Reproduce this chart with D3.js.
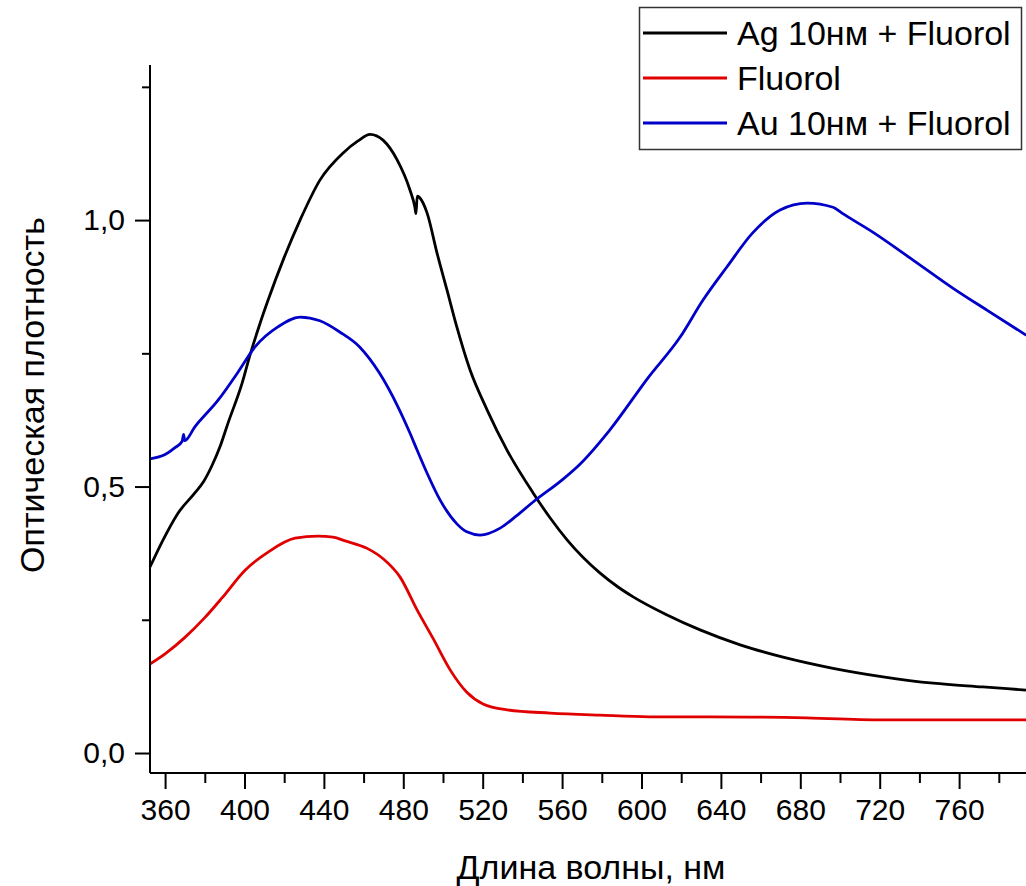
<!DOCTYPE html>
<html><head><meta charset="utf-8">
<script src="https://cdn.jsdelivr.net/npm/d3@7/dist/d3.min.js"></script>
<style>body{margin:0;background:#fff}svg{display:block}text{font-family:"Liberation Sans",Arial,sans-serif;fill:#000}</style>
</head><body>
<script>
const seriesNames = ["Ag 10нм + Fluorol", "Fluorol", "Au 10нм + Fluorol"];
const seriesColors = ["#000000", "#e00000", "#0000c8"];

const agX = [352.4,359,366.5,375,379.5,383.7,387.7,391.7,398.8,402.8,407.9,411.9,420,428,438,449.7,457,463.3,469.8,476.9,483.4,485.8,486.4,487,488,492,497,502,507,513.6,522.2,532.3,545.4,554,562.5,579,588,595.8,612.9,629.5,649.7,671.3,696.5,721.7,747,772,793.8];
const agY = [0.349,0.40,0.45,0.488,0.51,0.54,0.575,0.619,0.694,0.747,0.807,0.850,0.93,1.0,1.075,1.126,1.148,1.161,1.150,1.113,1.056,1.025,1.012,1.045,1.043,1.013,0.938,0.869,0.799,0.719,0.644,0.568,0.488,0.441,0.40,0.338,0.312,0.293,0.259,0.231,0.203,0.18,0.159,0.143,0.131,0.124,0.118];

const fluorolX = [352.4,360,370,380,388.7,400.3,411.9,425.5,437,444.6,450.7,461.8,470,478.4,487,495,503.6,512,520.2,532.3,554,579,604,634.6,683,723.7,793.8];
const fluorolY = [0.167,0.186,0.217,0.254,0.291,0.343,0.377,0.403,0.407,0.405,0.398,0.384,0.364,0.330,0.268,0.215,0.156,0.114,0.092,0.081,0.075,0.071,0.068,0.068,0.066,0.062,0.062];

const auX = [352.4,360,365,368.6,369.3,369.9,375,386.7,396.8,405.3,417,428,438,448,458,468,477,483.4,487,492,498.5,507,512,518.7,528.8,537,545.4,560.5,569,584,603.3,619.4,631,643,656,669.8,683.4,696.5,701,716.7,736.8,757,774,793.8];
const auY = [0.552,0.560,0.573,0.585,0.598,0.586,0.612,0.662,0.715,0.762,0.80,0.818,0.811,0.79,0.762,0.713,0.652,0.60,0.568,0.525,0.475,0.43,0.415,0.409,0.422,0.445,0.471,0.514,0.542,0.606,0.704,0.78,0.85,0.912,0.976,1.019,1.032,1.024,1.013,0.977,0.925,0.872,0.831,0.784];

const xMajorTicks = [360,400,440,480,520,560,600,640,680,720,760];
const xMinorTicks = [380,420,460,500,540,580,620,660,700,740,780];
const yMajorTicks = [0.0,0.5,1.0];
const yMajorLabels = ["0,0","0,5","1,0"];
const yMinorTicks = [0.25,0.75,1.25];
const xTitle = "Длина волны, нм";
const yTitle = "Оптическая плотность";

const W = 1026, H = 886;
const L = 150, R = 1026, T = 65, B = 773;
const svg = d3.select("body").append("svg").attr("width", W).attr("height", H);

const x = d3.scaleLinear().domain([352.4, 793.7]).range([L, R]);
const y = d3.scaleLinear().domain([-0.0375, 1.291]).range([B, T]);

const series = [
  {xs: agX, ys: agY},
  {xs: fluorolX, ys: fluorolY},
  {xs: auX, ys: auY}
];

const line = d3.line().x(d => x(d[0])).y(d => y(d[1])).curve(d3.curveMonotoneX);
series.forEach((s, i) => {
  svg.append("path")
    .datum(s.xs.map((v, k) => [v, s.ys[k]]))
    .attr("d", line)
    .attr("fill", "none")
    .attr("stroke", seriesColors[i])
    .attr("stroke-width", 2.8)
    .attr("stroke-linejoin", "round");
});

// X axis
const gx = svg.append("g").attr("transform", `translate(0,${B})`);
gx.call(d3.axisBottom(x).tickValues(xMinorTicks).tickSize(10).tickFormat(""));
gx.call(g => g.select(".domain").remove());
const gx2 = svg.append("g").attr("transform", `translate(0,${B})`);
gx2.call(d3.axisBottom(x).tickValues(xMajorTicks).tickSize(16).tickPadding(10).tickSizeOuter(0));
gx2.select(".domain").attr("stroke-width", 2).attr("d", `M${L},0H${R}`);
gx2.selectAll("text").attr("font-size", 30).attr("font-family", "Liberation Sans, Arial, sans-serif");

// Y axis
const gy = svg.append("g").attr("transform", `translate(${L},0)`);
gy.call(d3.axisLeft(y).tickValues(yMinorTicks).tickSize(8).tickFormat(""));
gy.call(g => g.select(".domain").remove());
const gy2 = svg.append("g").attr("transform", `translate(${L},0)`);
gy2.call(d3.axisLeft(y).tickValues(yMajorTicks).tickSize(15).tickPadding(10).tickSizeOuter(0)
  .tickFormat((d, i) => yMajorLabels[i]));
gy2.select(".domain").attr("stroke-width", 2).attr("d", `M0,${T}V${B}`);
gy2.selectAll("text").attr("font-size", 30).attr("font-family", "Liberation Sans, Arial, sans-serif");
svg.selectAll(".tick line").attr("stroke-width", 2);

// Titles
svg.append("text").attr("x", 591).attr("y", 879).attr("text-anchor", "middle")
  .attr("font-size", 34).text(xTitle);
svg.append("text").attr("transform", "translate(44,395) rotate(-90)").attr("text-anchor", "middle")
  .attr("font-size", 34).text(yTitle);

// Legend
const lg = svg.append("g");
lg.append("rect").attr("x", 639.5).attr("y", 7.5).attr("width", 382).attr("height", 142)
  .attr("fill", "#fff").attr("stroke", "#333").attr("stroke-width", 1.5);
const rowY = [33, 78, 123];
seriesNames.forEach((n, i) => {
  lg.append("line").attr("x1", 643).attr("x2", 727).attr("y1", rowY[i]).attr("y2", rowY[i])
    .attr("stroke", seriesColors[i]).attr("stroke-width", 2.8);
  lg.append("text").attr("x", 737).attr("y", rowY[i]).attr("dy", "0.36em")
    .attr("font-size", 34).text(n);
});
</script>
</body></html>
